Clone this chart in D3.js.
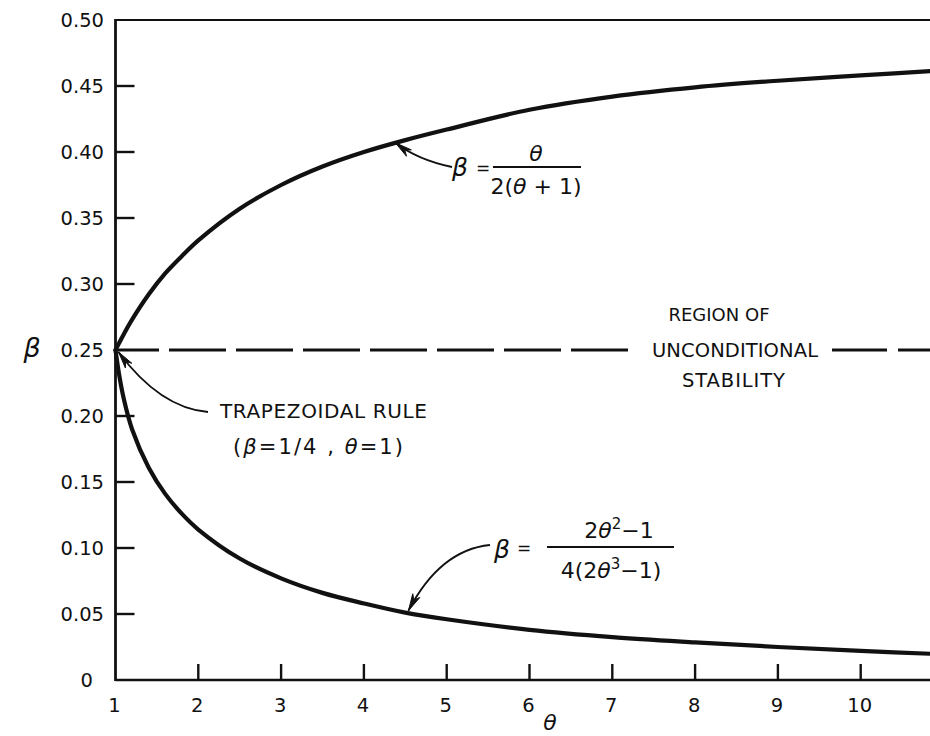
<!DOCTYPE html>
<html>
<head>
<meta charset="utf-8">
<script src="https://cdn.jsdelivr.net/npm/d3@7"></script>
<style>
  html, body { margin: 0; padding: 0; background: #fff; }
  svg { display: block; font-family: "DejaVu Sans", "Liberation Sans", sans-serif; }
</style>
</head>
<body>
<svg id="chart" width="930" height="736"></svg>
<script>
// ---- data ----
const thetaVals = [1, 1.05, 1.1, 1.2, 1.4, 1.6, 1.8, 2, 2.5, 3, 3.5, 4, 4.5, 5, 6, 7, 8, 9, 10, 11];
const upperBeta = [0.250, 0.256, 0.262, 0.273, 0.292, 0.308, 0.321, 0.333, 0.357, 0.375, 0.389, 0.400, 0.409, 0.417, 0.432, 0.442, 0.449, 0.454, 0.458, 0.462];
const lowerBeta = [0.250, 0.229, 0.213, 0.190, 0.161, 0.141, 0.126, 0.114, 0.092, 0.077, 0.066, 0.058, 0.051, 0.046, 0.038, 0.0325, 0.0285, 0.025, 0.022, 0.0195];
const xTicks = [1, 2, 3, 4, 5, 6, 7, 8, 9, 10];
const xTickLabels = ["1", "2", "3", "4", "5", "6", "7", "8", "9", "10"];
const yTicks = [0, 0.05, 0.10, 0.15, 0.20, 0.25, 0.30, 0.35, 0.40, 0.45, 0.50];
const yTickLabels = ["0", "0.05", "0.10", "0.15", "0.20", "0.25", "0.30", "0.35", "0.40", "0.45", "0.50"];
const stabilityBeta = 0.25;

// ---- scales ----
const svg = d3.select("#chart");
const W = 930;
const x = d3.scaleLinear().domain([1, 11]).range([115.5, 943.5]);
const y = d3.scaleLinear().domain([0, 0.5]).range([680, 20]);
const ink = "#111";

// ---- frame ----
svg.append("line").attr("x1", x(1)).attr("x2", W).attr("y1", y(0.5)).attr("y2", y(0.5))
  .attr("stroke", ink).attr("stroke-width", 2.2);
svg.append("line").attr("x1", x(1)).attr("x2", W).attr("y1", y(0)).attr("y2", y(0))
  .attr("stroke", ink).attr("stroke-width", 2.6);
svg.append("line").attr("x1", x(1)).attr("x2", x(1)).attr("y1", y(0.5) - 1).attr("y2", y(0) + 1)
  .attr("stroke", ink).attr("stroke-width", 2.8);

// ---- ticks (inward) ----
svg.append("g").selectAll("line").data(yTicks.filter(v => v > 0 && v < 0.5 && v !== 0.25)).join("line")
  .attr("x1", x(1)).attr("x2", x(1) + 19)
  .attr("y1", d => y(d)).attr("y2", d => y(d))
  .attr("stroke", ink).attr("stroke-width", 2.4);
svg.append("g").selectAll("line").data(xTicks.filter(v => v > 1)).join("line")
  .attr("x1", d => x(d)).attr("x2", d => x(d))
  .attr("y1", y(0)).attr("y2", y(0) - 16)
  .attr("stroke", ink).attr("stroke-width", 2.4);

// ---- tick labels ----
svg.append("g").selectAll("text").data(yTicks).join("text")
  .attr("x", d => d === 0 ? 93 : 104)
  .attr("y", d => y(d))
  .attr("dy", "0.36em")
  .attr("text-anchor", "end")
  .attr("font-size", 19.5)
  .attr("fill", ink)
  .text((d, i) => yTickLabels[i]);
svg.append("g").selectAll("text").data(xTicks).join("text")
  .attr("x", d => x(d) - 1)
  .attr("y", 712)
  .attr("text-anchor", "middle")
  .attr("font-size", 19.5)
  .attr("fill", ink)
  .text((d, i) => xTickLabels[i]);

// ---- axis titles ----
svg.append("text").attr("x", 32).attr("y", 357).attr("text-anchor", "middle")
  .attr("font-size", 27).attr("font-style", "italic").attr("fill", ink).text("β");
svg.append("text").attr("x", 550).attr("y", 730).attr("text-anchor", "middle")
  .attr("font-size", 22).attr("font-style", "italic").attr("fill", ink).text("θ");

// ---- dashed stability line ----
// left part drawn right-to-left so the dash pattern starts at the text gap
svg.append("line").attr("x1", 628).attr("x2", x(1)).attr("y1", y(stabilityBeta)).attr("y2", y(stabilityBeta))
  .attr("stroke", ink).attr("stroke-width", 3).attr("stroke-dasharray", "57,10");
svg.append("line").attr("x1", 832).attr("x2", W).attr("y1", y(stabilityBeta)).attr("y2", y(stabilityBeta))
  .attr("stroke", ink).attr("stroke-width", 3).attr("stroke-dasharray", "55,11");

// ---- curves ----
const line = d3.line().x(d => x(d[0])).y(d => y(d[1])).curve(d3.curveCatmullRom.alpha(0.5));
svg.append("path").datum(thetaVals.map((t, i) => [t, upperBeta[i]]))
  .attr("d", line).attr("fill", "none").attr("stroke", ink).attr("stroke-width", 4.2)
  .attr("stroke-linecap", "round");
svg.append("path").datum(thetaVals.map((t, i) => [t, lowerBeta[i]]))
  .attr("d", line).attr("fill", "none").attr("stroke", ink).attr("stroke-width", 4.2)
  .attr("stroke-linecap", "round");

// ---- annotation arrows ----
function arrow(tail, ctrl, tip) {
  svg.append("path")
    .attr("d", `M${tail[0]},${tail[1]} Q${ctrl[0]},${ctrl[1]} ${tip[0]},${tip[1]}`)
    .attr("fill", "none").attr("stroke", ink).attr("stroke-width", 1.8);
  const dx = tip[0] - ctrl[0], dy = tip[1] - ctrl[1];
  const L = Math.hypot(dx, dy), ux = dx / L, uy = dy / L;
  const len = 17, hw = 4;
  const bx = tip[0] - ux * len, by = tip[1] - uy * len;
  const nx = -uy, ny = ux;
  svg.append("path")
    .attr("d", `M${tip[0]},${tip[1]} L${bx + nx * hw},${by + ny * hw} L${tip[0] - ux * len * 0.7},${tip[1] - uy * len * 0.7} L${bx - nx * hw},${by - ny * hw} Z`)
    .attr("fill", ink).attr("stroke", ink).attr("stroke-width", 1).attr("stroke-linejoin", "miter");
}
arrow([452, 167], [418, 160], [x(4.38), y(0.407)]);
arrow([208, 412], [160, 408], [x(1) + 3, y(0.25) + 2]);
arrow([490, 545], [440, 550], [x(4.55) - 1, y(0.051) - 2]);

// ---- upper formula ----
svg.append("text").attr("x", 452).attr("y", 176).attr("font-size", 25).attr("font-style", "italic")
  .attr("fill", ink).text("β");
svg.append("text").attr("x", 476).attr("y", 174).attr("font-size", 17).attr("fill", ink).text("=");
svg.append("line").attr("x1", 493).attr("x2", 581).attr("y1", 167).attr("y2", 167)
  .attr("stroke", ink).attr("stroke-width", 1.8);
svg.append("text").attr("x", 536).attr("y", 161).attr("text-anchor", "middle").attr("font-size", 22)
  .attr("font-style", "italic").attr("fill", ink).text("θ");
const den1 = svg.append("text").attr("x", 536).attr("y", 194).attr("text-anchor", "middle")
  .attr("font-size", 22).attr("fill", ink);
den1.append("tspan").text("2(");
den1.append("tspan").attr("font-style", "italic").text("θ");
den1.append("tspan").text(" + 1)");

// ---- lower formula ----
svg.append("text").attr("x", 494).attr("y", 558).attr("font-size", 25).attr("font-style", "italic")
  .attr("fill", ink).text("β");
svg.append("text").attr("x", 517).attr("y", 554).attr("font-size", 17).attr("fill", ink).text("=");
svg.append("line").attr("x1", 547).attr("x2", 674).attr("y1", 547).attr("y2", 547)
  .attr("stroke", ink).attr("stroke-width", 1.8);
const num2 = svg.append("text").attr("x", 619).attr("y", 538).attr("text-anchor", "middle")
  .attr("font-size", 22).attr("fill", ink);
num2.append("tspan").text("2");
num2.append("tspan").attr("font-style", "italic").text("θ");
num2.append("tspan").attr("font-size", 15).attr("dy", -9).text("2");
num2.append("tspan").attr("dy", 9).text("−1");
const den2 = svg.append("text").attr("x", 611).attr("y", 578).attr("text-anchor", "middle")
  .attr("font-size", 22).attr("fill", ink);
den2.append("tspan").text("4(2");
den2.append("tspan").attr("font-style", "italic").text("θ");
den2.append("tspan").attr("font-size", 15).attr("dy", -9).text("3");
den2.append("tspan").attr("dy", 9).text("−1)");

// ---- text annotations ----
svg.append("text").attr("x", 220).attr("y", 418).attr("font-size", 20)
  .attr("textLength", 207).attr("lengthAdjust", "spacing").attr("fill", ink).text("TRAPEZOIDAL RULE");
const trap2 = svg.append("text").attr("x", 233).attr("y", 454).attr("font-size", 21)
  .attr("textLength", 170).attr("lengthAdjust", "spacing").attr("fill", ink);
trap2.append("tspan").text("(");
trap2.append("tspan").attr("font-style", "italic").text("β");
trap2.append("tspan").text("=1/4 , ");
trap2.append("tspan").attr("font-style", "italic").text("θ");
trap2.append("tspan").text("=1)");

svg.append("text").attr("x", 719).attr("y", 321).attr("font-size", 18).attr("text-anchor", "middle")
  .attr("fill", ink).text("REGION OF");
svg.append("text").attr("x", 652).attr("y", 357).attr("font-size", 19.5)
  .attr("textLength", 166).attr("lengthAdjust", "spacing").attr("fill", ink).text("UNCONDITIONAL");
svg.append("text").attr("x", 682).attr("y", 387).attr("font-size", 19.5)
  .attr("textLength", 103).attr("lengthAdjust", "spacing").attr("fill", ink).text("STABILITY");
</script>
</body>
</html>
